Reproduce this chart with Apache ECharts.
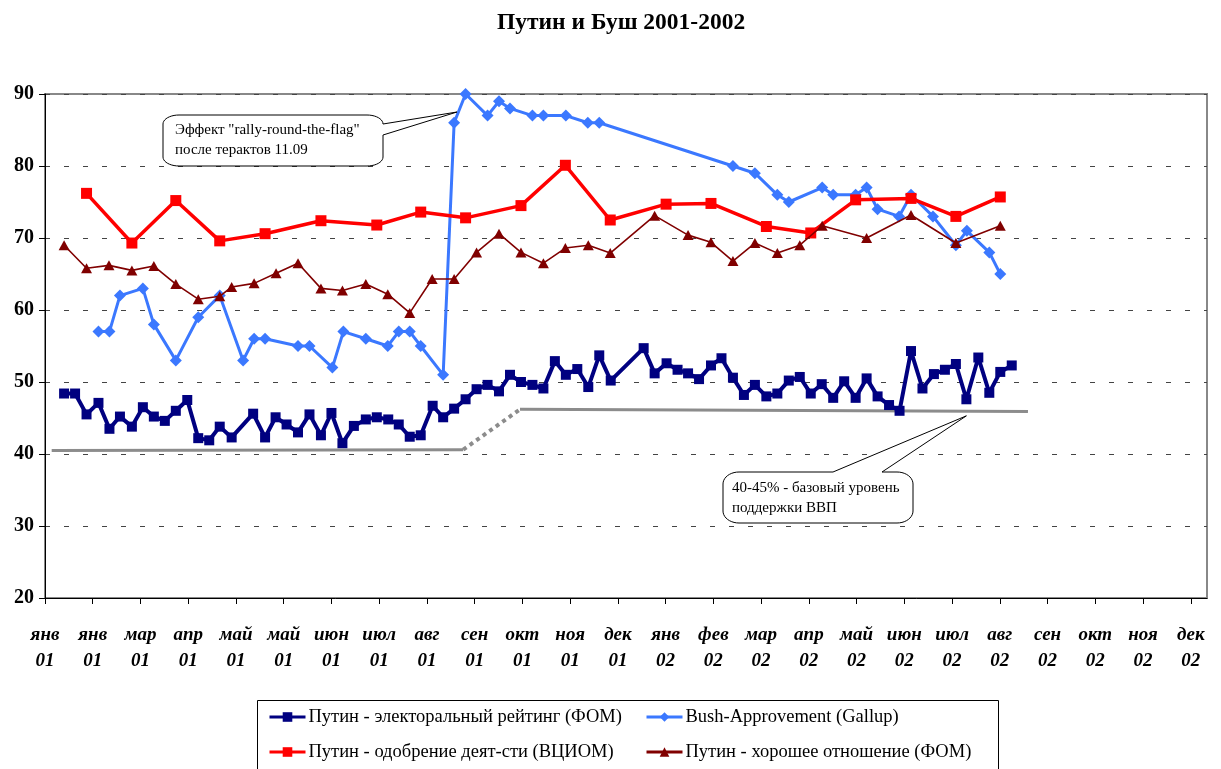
<!DOCTYPE html>
<html><head><meta charset="utf-8">
<script src="https://cdn.jsdelivr.net/npm/echarts@6/dist/echarts.min.js"></script>
<style>html,body{margin:0;padding:0;background:#fff}#c{width:1221px;height:769px}</style>
</head><body><div id="c"></div>
<script>
// Tick labels (x axis: month / year at each monthly tick)
const months = ['янв','янв','мар','апр','май','май','июн','июл','авг','сен','окт','ноя','дек','янв','фев','мар','апр','май','июн','июл','авг','сен','окт','ноя','дек'];
const years  = ['01','01','01','01','01','01','01','01','01','01','01','01','01','02','02','02','02','02','02','02','02','02','02','02','02'];

// Series names
const names = ['Путин - электоральный рейтинг (ФОМ)','Bush-Approvement (Gallup)','Путин - одобрение деят-сти (ВЦИОМ)','Путин - хорошее отношение (ФОМ)'];

// x positions in months from the first tick, values in %
const elecX = [0.40,0.63,0.87,1.12,1.35,1.57,1.82,2.05,2.28,2.51,2.74,2.98,3.21,3.44,3.66,3.91,4.36,4.61,4.83,5.06,5.30,5.54,5.78,6.00,6.23,6.47,6.72,6.95,7.19,7.41,7.64,7.87,8.12,8.34,8.57,8.81,9.04,9.27,9.51,9.74,9.97,10.21,10.44,10.68,10.91,11.15,11.38,11.61,11.85,12.54,12.77,13.02,13.25,13.47,13.70,13.95,14.17,14.41,14.64,14.87,15.11,15.34,15.58,15.81,16.04,16.27,16.51,16.74,16.98,17.21,17.44,17.68,17.90,18.14,18.38,18.62,18.85,19.08,19.30,19.55,19.78,20.01,20.25];
const elecY = [48.4,48.4,45.5,47.1,43.5,45.2,43.8,46.5,45.2,44.6,46.0,47.5,42.2,41.9,43.8,42.3,45.6,42.3,45.1,44.1,43.0,45.5,42.6,45.7,41.5,43.9,44.8,45.1,44.8,44.1,42.4,42.6,46.7,45.1,46.3,47.6,49.0,49.6,48.7,51.0,50.0,49.6,49.1,52.9,51.0,51.8,49.3,53.7,50.2,54.7,51.2,52.6,51.7,51.2,50.4,52.3,53.3,50.6,48.2,49.6,48.0,48.4,50.2,50.7,48.4,49.7,47.8,50.1,47.8,50.5,48.0,46.8,46.0,54.3,49.1,51.1,51.7,52.5,47.6,53.4,48.5,51.4,52.3];

const bushX = [1.12,1.35,1.57,2.05,2.28,2.74,3.21,3.66,4.15,4.38,4.61,5.30,5.54,6.02,6.25,6.72,7.18,7.41,7.64,7.87,8.34,8.57,8.81,9.27,9.51,9.74,10.21,10.44,10.91,11.37,11.61,14.41,14.87,15.34,15.58,16.28,16.51,16.98,17.21,17.44,17.89,18.14,18.60,19.08,19.31,19.78,20.01];
const bushY = [57,57,62,63,58,53,59,62,53,56,56,55,55,52,57,56,55,57,57,55,51,86,90,87,89,88,87,87,87,86,86,80,79,76,75,77,76,76,77,74,73,76,73,69,71,68,65];

const vciomX = [0.87,1.82,2.74,3.66,4.61,5.78,6.95,7.87,8.81,9.97,10.90,11.84,13.01,13.95,15.11,16.04,16.98,18.14,19.08,20.01];
const vciomY = [76.2,69.3,75.2,69.6,70.6,72.4,71.8,73.6,72.8,74.5,80.1,72.5,74.7,74.8,71.6,70.7,75.3,75.5,73.0,75.7];

const goodX = [0.40,0.87,1.34,1.82,2.28,2.74,3.21,3.66,3.91,4.38,4.84,5.30,5.78,6.23,6.72,7.18,7.64,8.11,8.57,9.04,9.51,9.97,10.44,10.90,11.38,11.84,12.77,13.47,13.95,14.41,14.87,15.34,15.81,16.28,17.21,18.14,19.08,20.01];
const goodY = [69.0,65.8,66.2,65.5,66.1,63.6,61.5,61.9,63.2,63.7,65.1,66.5,63.0,62.7,63.6,62.2,59.6,64.3,64.3,68.0,70.6,68.0,66.5,68.6,69.0,67.9,73.1,70.4,69.4,66.8,69.3,67.9,69.0,71.7,70.0,73.2,69.3,71.7];

// Base support level lines (before, transition, after)
const baseAX = [0.14,8.76],  baseAY = [40.5,40.6];
const baseBX = [8.76,9.95],  baseBY = [40.6,46.2];
const baseCX = [9.95,20.59], baseCY = [46.2,45.9];

// Callout texts and their anchor points
const note1 = ['Эффект "rally-round-the-flag"','после терактов 11.09'];
const note1At = [8.63,87.5];
const note2 = ['40-45% - базовый уровень','поддержки ВВП'];
const note2At = [19.30,45.3];

const title = 'Путин и Буш 2001-2002';

const zip = (xs, ys) => xs.map((x, i) => [x, ys[i]]);
const SERIF = '"Liberation Serif","Times New Roman",serif';

const chart = echarts.init(document.getElementById('c'), null, {renderer:'canvas'});
const ticks = months.map((m, i) => i);

const legendBase = (name, left, top) => ({
  data:[name], left:left, top:top, orient:'horizontal', padding:0,
  itemWidth:36, itemHeight:12, itemGap:0,
  lineStyle:{width:3},
  textStyle:{fontFamily:SERIF, fontSize:18.5, color:'#000', lineHeight:20, padding:[0,0,0,-2]}
});

const option = {
  animation:false,
  backgroundColor:'#fff',
  title:{text:title, left:497, top:11, padding:0, textStyle:{fontFamily:SERIF, fontWeight:'bold', fontSize:23.5, color:'#000'}},
  grid:{left:45, right:14, top:94, bottom:171, show:true, borderColor:'#888', borderWidth:2, backgroundColor:'transparent'},
  legend:[
    legendBase(names[0], 268, 707),
    legendBase(names[1], 645, 707),
    legendBase(names[2], 268, 742),
    legendBase(names[3], 645, 742)
  ],
  xAxis:{
    type:'value', min:0, max:24.34,
    axisLine:{show:true, onZero:false, lineStyle:{color:'#000', width:1}},
    axisTick:{show:true, customValues:ticks, length:6, lineStyle:{color:'#000'}},
    axisLabel:{customValues:ticks, margin:24, fontFamily:SERIF, fontSize:19, fontWeight:'bold', fontStyle:'italic', color:'#000', lineHeight:26,
      formatter:v => { const i = Math.round(v); return Math.abs(v - i) < 1e-6 && months[i] ? months[i] + '\n' + years[i] : ''; }},
    splitLine:{show:false}
  },
  yAxis:{
    type:'value', min:20, max:90, interval:10,
    axisLine:{show:true, lineStyle:{color:'#000', width:1}},
    axisTick:{show:true, length:6, lineStyle:{color:'#000'}},
    axisLabel:{margin:11, fontFamily:SERIF, fontSize:20, fontWeight:'bold', color:'#000'},
    splitLine:{show:true, lineStyle:{color:'#444', width:1, type:[5,14]}}
  },
  series:[
    {type:'line', name:'baseA', data:zip(baseAX, baseAY), showSymbol:false, silent:true, z:1, lineStyle:{color:'#8c8c8c', width:3}},
    {type:'line', name:'baseB', data:zip(baseBX, baseBY), showSymbol:false, silent:true, z:1, lineStyle:{color:'#8c8c8c', width:4, type:[4,4]}},
    {type:'line', name:'baseC', data:zip(baseCX, baseCY), showSymbol:false, silent:true, z:1, lineStyle:{color:'#8c8c8c', width:3}},
    {type:'line', name:names[0], data:zip(elecX, elecY), symbol:'rect', symbolSize:10, z:3,
      itemStyle:{color:'#000080'}, lineStyle:{color:'#000080', width:4}},
    {type:'line', name:names[1], data:zip(bushX, bushY), symbol:'diamond', symbolSize:12, z:4,
      itemStyle:{color:'#3B78FF'}, lineStyle:{color:'#3B78FF', width:3}},
    {type:'line', name:names[2], data:zip(vciomX, vciomY), symbol:'rect', symbolSize:11, z:5,
      itemStyle:{color:'#FF0000'}, lineStyle:{color:'#FF0000', width:3.5}},
    {type:'line', name:names[3], data:zip(goodX, goodY), symbol:'triangle', symbolSize:[11,10], z:6,
      itemStyle:{color:'#800000'}, lineStyle:{color:'#800000', width:1.6}}
  ]
};
chart.setOption(option);

// Speech-bubble callouts (rounded box with a wedge pointing at an anchor)
function bubble(x0, y0, x1, y1, rx, ry, side, a, b, apex) {
  const pts = [];
  const arc = (cx, cy, s, e) => { for (let i = 0; i <= 10; i++) { const t = s + (e - s) * i / 10; pts.push([cx + rx * Math.cos(t), cy + ry * Math.sin(t)]); } };
  pts.push([x0 + rx, y0]);
  if (side === 'top') pts.push([a, y0], apex, [b, y0]);
  pts.push([x1 - rx, y0]);
  arc(x1 - rx, y0 + ry, -Math.PI / 2, 0);
  if (side === 'right') pts.push([x1, a], apex, [x1, b]);
  pts.push([x1, y1 - ry]);
  arc(x1 - rx, y1 - ry, 0, Math.PI / 2);
  pts.push([x0 + rx, y1]);
  arc(x0 + rx, y1 - ry, Math.PI / 2, Math.PI);
  pts.push([x0, y0 + ry]);
  arc(x0 + rx, y0 + ry, Math.PI, 1.5 * Math.PI);
  return pts;
}
const ap1 = chart.convertToPixel({gridIndex:0}, note1At);
const ap2 = chart.convertToPixel({gridIndex:0}, note2At);
const txt = (x, y, s) => ({type:'text', x:x, y:y, z:101, style:{text:s, fontFamily:SERIF, fontSize:15, fill:'#000', textVerticalAlign:'middle', textAlign:'left'}});
chart.setOption({
  graphic:[
    {type:'polygon', z:100, shape:{points:bubble(163, 115, 383, 166, 16, 9, 'right', 124, 135, ap1)}, style:{fill:'#fff', stroke:'#000', lineWidth:1}},
    txt(175, 130, note1[0]), txt(175, 150, note1[1]),
    {type:'polygon', z:100, shape:{points:bubble(723, 472, 913, 523, 16, 12, 'top', 833, 882, ap2)}, style:{fill:'#fff', stroke:'#000', lineWidth:1}},
    txt(732, 488, note2[0]), txt(732, 508, note2[1]),
    {type:'rect', z:0, shape:{x:257.5, y:700.5, width:741, height:80}, style:{fill:'none', stroke:'#000', lineWidth:1}}
  ]
});
</script>
</body></html>
